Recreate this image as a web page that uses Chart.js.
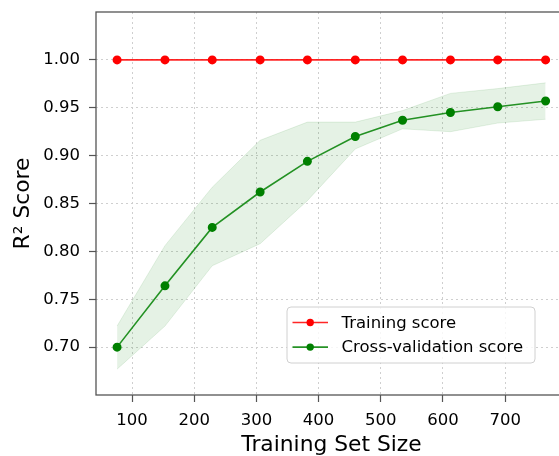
<!DOCTYPE html>
<html>
<head>
<meta charset="utf-8">
<script src="https://cdn.jsdelivr.net/npm/chart.js@4.4.1/dist/chart.umd.min.js"></script>
<style>
html, body { margin: 0; padding: 0; background: #fff; overflow: hidden; }
#wrap { width: 600px; height: 456px; }
</style>
</head>
<body>
<div id="wrap"><canvas id="lc" width="600" height="456"></canvas></div>
<script>
// learning curve data
const trainSizes = [76, 153, 229, 306, 382, 459, 535, 612, 688, 765]
const trainScore = [1.0, 1.0, 1.0, 1.0, 1.0, 1.0, 1.0, 1.0, 1.0, 1.0]
const cvScore = [0.700, 0.764, 0.825, 0.862, 0.894, 0.920, 0.937, 0.945, 0.951, 0.957]
const cvUpper = [0.722, 0.806, 0.867, 0.916, 0.935, 0.935, 0.947, 0.965, 0.970, 0.976]
const cvLower = [0.677, 0.722, 0.785, 0.808, 0.853, 0.907, 0.928, 0.925, 0.934, 0.938]
const xTicks = [100, 200, 300, 400, 500, 600, 700]
const yTicks = [0.70, 0.75, 0.80, 0.85, 0.90, 0.95, 1.00]
const legendLabels = ['Training score', 'Cross-validation score']

const FONT = "'DejaVu Sans', sans-serif"

function pts(ys){
    return trainSizes.map((x, i) => ({x: x, y: ys[i]}))
}

// box round the plot, like matplotlib spines
const framePlugin = {
    id: 'frame',
    afterDatasetsDraw(chart){
        const a = chart.chartArea
        const c = chart.ctx
        c.save()
        c.strokeStyle = '#555'
        c.lineWidth = 1.3
        c.strokeRect(a.left, a.top, a.right - a.left, a.bottom - a.top)
        c.restore()
    }
}

// legend drawn inside the axes, lower right
const legendPlugin = {
    id: 'innerLegend',
    afterDraw(chart){
        const a = chart.chartArea
        const c = chart.ctx
        const w = 248, h = 56
        const x0 = a.right - 32 - w
        const y0 = a.bottom - 32 - h
        c.save()
        c.beginPath()
        c.roundRect(x0, y0, w, h, 4)
        c.fillStyle = 'rgba(255,255,255,0.8)'
        c.fill()
        c.strokeStyle = '#d0d0d0'
        c.lineWidth = 1
        c.stroke()
        c.font = '16.5px ' + FONT
        c.textBaseline = 'middle'
        c.textAlign = 'left'
        for (let i = 0; i < legendLabels.length; i++) {
            const ds = chart.data.datasets[i]
            const y = y0 + 15.5 + i * 24.6
            c.beginPath()
            c.moveTo(x0 + 5.5, y)
            c.lineTo(x0 + 41, y)
            c.strokeStyle = ds.borderColor
            c.lineWidth = 1.6
            c.stroke()
            c.beginPath()
            c.arc(x0 + 23.2, y, 3.7, 0, Math.PI * 2)
            c.fillStyle = ds.pointBackgroundColor
            c.fill()
            c.fillStyle = '#000'
            c.fillText(legendLabels[i], x0 + 54.5, y + 1)
        }
        c.restore()
    }
}

const data = {
    datasets: [{
            label: legendLabels[0],
            data: pts(trainScore),
            borderColor: 'rgba(255,0,0,0.85)',
            backgroundColor: 'red',
            pointBackgroundColor: 'red',
            pointBorderColor: 'red',
            pointRadius: 3.7,
            borderWidth: 1.6,
            fill: false
        }, {
            label: legendLabels[1],
            data: pts(cvScore),
            borderColor: 'rgba(0,128,0,0.85)',
            backgroundColor: 'green',
            pointBackgroundColor: 'green',
            pointBorderColor: 'green',
            pointRadius: 3.7,
            borderWidth: 1.6,
            fill: false
        }, {
            label: 'cv upper',
            data: pts(cvUpper),
            borderColor: 'rgba(0,128,0,0.1)',
            backgroundColor: 'rgba(0,128,0,0.1)',
            borderWidth: 1,
            pointRadius: 0,
            fill: '+1'
        }, {
            label: 'cv lower',
            data: pts(cvLower),
            borderColor: 'rgba(0,128,0,0.1)',
            backgroundColor: 'rgba(0,128,0,0.1)',
            borderWidth: 1,
            pointRadius: 0,
            fill: false
        }]
}

const config = {
    type: 'line',
    data: data,
    options: {
        responsive: false,
        animation: false,
        devicePixelRatio: 1,
        layout: { padding: { left: 0, top: 12, right: 33, bottom: 0 } },
        plugins: { legend: { display: false }, tooltip: { enabled: false } },
        scales: {
            x: {
                type: 'linear',
                min: 42.1,
                max: 799.4,
                afterBuildTicks: s => { s.ticks = xTicks.map(v => ({value: v})) },
                afterFit: s => { s.height = 61; s.paddingLeft = 0; s.paddingRight = 0 },
                ticks: {
                    font: { family: FONT, size: 16.5 },
                    color: '#000',
                    padding: 9,
                    maxRotation: 0,
                    autoSkip: false,
                    callback: v => String(v)
                },
                grid: { color: '#cfcfcf', lineWidth: 1, tickColor: '#555', tickLength: 7, tickWidth: 1.2 },
                border: { display: false, dash: [2, 3] },
                title: {
                    display: true,
                    text: 'Training Set Size',
                    color: '#000',
                    font: { family: FONT, size: 21.8, lineHeight: 1 },
                    padding: 0
                }
            },
            y: {
                min: 0.65,
                max: 1.05,
                afterBuildTicks: s => { s.ticks = yTicks.map(v => ({value: v})) },
                afterFit: s => { s.width = 96; s.paddingTop = 0; s.paddingBottom = 0 },
                ticks: {
                    font: { family: FONT, size: 16.5 },
                    color: '#000',
                    padding: 9,
                    autoSkip: false,
                    callback: v => v.toFixed(2)
                },
                grid: { color: '#cfcfcf', lineWidth: 1, tickColor: '#555', tickLength: 7, tickWidth: 1.2 },
                border: { display: false, dash: [2, 3] },
                title: {
                    display: true,
                    text: 'R² Score',
                    color: '#000',
                    font: { family: FONT, size: 21.8, lineHeight: 1 },
                    padding: { top: 12, bottom: 0 }
                }
            }
        }
    },
    plugins: [framePlugin, legendPlugin]
}

let c = document.getElementById('lc').getContext('2d')
new Chart(c, config)
</script>
</body>
</html>
